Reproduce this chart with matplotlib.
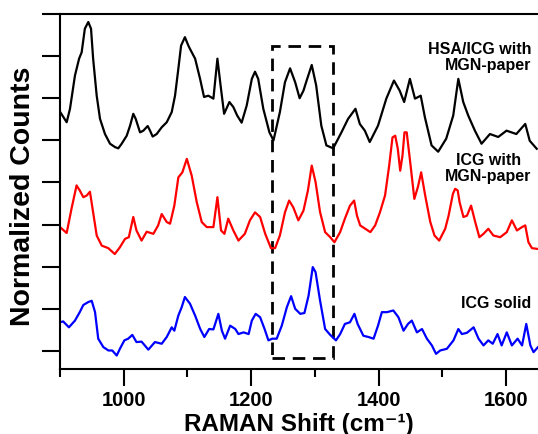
import matplotlib
matplotlib.use("Agg")
import matplotlib.pyplot as plt
from matplotlib.patches import Rectangle
from matplotlib.ticker import MultipleLocator, NullFormatter

plt.rcParams['font.family'] = ['Liberation Sans', 'DejaVu Sans']
plt.rcParams['font.weight'] = 'bold'

# HSA/ICG with MGN-paper (black)
hsa_x = [900, 910.5, 915.7, 923.5, 930, 934, 939, 944.4, 948.7, 952, 957.6, 962.8, 970.6,
         978.5, 986.3, 991.5, 996.8, 1004.7, 1010, 1015, 1018.8, 1025.6, 1030.8, 1037.6,
         1041.3, 1045.4, 1051.7, 1059.6, 1067.5, 1075.3, 1080.5, 1085.7, 1090, 1096, 1101.4,
         1104, 1112, 1119.8, 1126, 1132.8, 1140.7, 1147, 1152, 1157.5, 1165.8, 1172, 1178,
         1185, 1193, 1201, 1206, 1211, 1219, 1228.6, 1235, 1245, 1253, 1261, 1269, 1276,
         1282, 1287, 1295, 1302, 1310, 1318, 1328.6, 1341.6, 1352, 1363.6, 1370.4, 1378.3,
         1386, 1399, 1412, 1424, 1433, 1440, 1449, 1457, 1466, 1472.5, 1483, 1493.4, 1506,
         1517, 1525, 1532.7, 1540.5, 1551, 1561.4, 1574.6, 1587.6, 1600.6, 1616, 1630, 1637,
         1648]
hsa_y = [5.68, 5.43, 5.75, 6.54, 6.94, 7.09, 7.65, 7.81, 7.65, 6.94, 6.06, 5.51, 5.15,
         4.92, 4.84, 4.81, 4.92, 5.11, 5.35, 5.63, 5.51, 5.19, 5.23, 5.34,
         5.23, 5.09, 5.15, 5.31, 5.43, 5.67, 6.06, 6.70, 7.25, 7.45, 7.25,
         7.17, 6.94, 6.46, 6.03, 6.06, 5.99, 6.94, 6.30, 5.63, 5.91, 5.79, 5.59,
         5.42, 5.83, 6.46, 6.63, 6.46, 5.75, 5.19, 5.00, 5.67, 6.38, 6.71, 6.38, 6.00,
         6.18, 6.42, 6.79, 6.30, 5.35, 4.88, 4.81, 5.19, 5.51, 5.75, 5.39, 5.23,
         4.96, 5.35, 5.99, 6.42, 6.18, 5.91, 6.46, 5.99, 6.06, 5.55, 4.88, 4.73, 5.04,
         5.59, 6.46, 5.91, 5.59, 5.23, 4.92, 5.15, 5.08, 5.23, 5.15, 5.39, 4.99,
         4.80]

# ICG with MGN-paper (red)
icg_paper_x = [900, 910.5, 918, 926, 931, 936.6, 942, 947, 952, 957.6, 965.5, 975.8, 986,
               994, 1002, 1008, 1015, 1020, 1028, 1036, 1046.5, 1054, 1059.6, 1067.5, 1072.7,
               1079.4, 1085.7, 1092, 1099, 1106.7, 1114.6, 1122.4, 1130.3, 1140.7, 1147,
               1152.7, 1158, 1164, 1172, 1180, 1190, 1198, 1206, 1214, 1222, 1231, 1237.5,
               1245, 1253, 1259.5, 1266, 1274, 1282, 1289, 1295, 1301, 1308, 1316, 1324,
               1330.6, 1339.5, 1347, 1355, 1361.5, 1366, 1371, 1379, 1387, 1394.5, 1402,
               1410, 1416.5, 1421.7, 1426, 1430, 1433.8, 1437.4, 1440.5, 1444, 1449.5, 1456,
               1461.5, 1466.7, 1473, 1481, 1487.6, 1495, 1504.4, 1509.7, 1516.5, 1520, 1524,
               1527, 1533, 1538.5, 1545, 1551.5, 1558, 1564.5, 1572, 1580, 1590.7, 1601,
               1609, 1617, 1624.8, 1630, 1635, 1640.5, 1650]
icg_paper_y = [2.94, 2.80, 3.37, 3.93, 3.81, 3.65, 3.69, 3.78, 3.29, 2.74, 2.50, 2.44, 2.30,
               2.46, 2.66, 2.70, 3.18, 2.86, 2.62, 2.83, 2.78, 2.98, 3.25, 3.06, 3.02,
               3.45, 4.12, 4.24, 4.56, 4.16, 3.53, 3.06, 2.94, 2.94, 3.65,
               2.86, 2.78, 3.14, 2.86, 2.62, 2.78, 3.10, 3.29, 3.18, 2.78, 2.44, 2.44,
               2.74, 3.29, 3.57, 3.41, 3.10, 3.33, 3.81, 4.40, 4.01, 3.30, 2.82, 2.70,
               2.58, 2.82, 3.14, 3.45, 3.57, 3.21, 2.98, 2.90, 2.82, 2.98, 3.29,
               3.69, 4.40, 5.07, 5.11, 4.80, 4.28, 4.64, 5.19, 5.19, 4.48, 3.61,
               3.89, 4.24, 3.69, 3.06, 2.74, 2.62, 2.90, 3.21, 3.73, 3.85, 3.81,
               3.53, 3.18, 3.21, 3.45, 3.06, 2.70, 2.78, 2.90, 2.74, 2.70, 2.82,
               3.10, 2.86, 2.94, 2.98, 2.58, 2.44, 2.42]

# ICG solid (blue)
icg_solid_x = [900, 905, 914, 923.5, 931, 936.6, 944.4, 949.8, 955, 960, 968, 976, 982, 989,
               994, 1001, 1007, 1013.5, 1020, 1028, 1038.6, 1049, 1059.6, 1067.5, 1075.3,
               1079.4, 1085.7, 1091, 1096, 1104, 1112, 1120, 1126.5, 1134, 1140.7, 1148.5,
               1154, 1159, 1167, 1175, 1180, 1188, 1196, 1201, 1207, 1214, 1221, 1227, 1233,
               1240, 1248, 1256, 1262.6, 1269, 1277, 1283.5, 1290, 1296.6, 1301, 1308, 1316,
               1324, 1333, 1339.6, 1347, 1355, 1362, 1367, 1376, 1384, 1392, 1399, 1405,
               1413, 1423, 1431, 1439, 1446, 1452, 1460, 1468, 1475.7, 1483.5, 1490, 1496.5,
               1507, 1517.4, 1525, 1530.6, 1538.5, 1549, 1556.7, 1564.5, 1572, 1579, 1586.5,
               1593, 1601, 1609, 1618, 1625, 1631.6, 1638, 1643, 1650]
icg_solid_y = [0.68, 0.70, 0.56, 0.72, 0.92, 1.09, 1.16, 1.19, 0.92, 0.29, 0.09, 0.01, 0.01, -0.11,
               0.05, 0.25, 0.29, 0.38, 0.21, 0.22, 0.03, 0.21, 0.17, 0.33, 0.56,
               0.48, 0.84, 1.04, 1.28, 1.12, 0.84, 0.52, 0.33, 0.52, 0.51, 0.88,
               0.48, 0.29, 0.60, 0.52, 0.40, 0.44, 0.40, 0.72, 0.88, 0.80, 0.52, 0.25, 0.29,
               0.29, 0.60, 1.04, 1.30, 1.00, 0.88, 0.90, 1.31, 1.99, 1.87, 1.20, 0.52,
               0.38, 0.25, 0.40, 0.64, 0.68, 0.88, 0.64, 0.36, 0.33, 0.29, 0.60, 0.92,
               0.92, 0.96, 0.80, 0.48, 0.64, 0.72, 0.44, 0.52, 0.29, 0.13, -0.07, 0.01,
               0.05, 0.25, 0.52, 0.40, 0.43, 0.56, 0.29, 0.13, 0.25, 0.17, 0.40,
               0.13, 0.44, 0.13, 0.29, 0.13, 0.64, 0.13, -0.03, 0.09]

# highlighted region (dashed box)
box_x = (1233, 1329)
box_y = (-0.17, 7.24)

fig = plt.figure(figsize=(5.38, 4.35), dpi=100)
ax = fig.add_axes([0.1115, 0.1494, 0.8885, 0.8161])

ax.plot(hsa_x, hsa_y, color='black', lw=1.6)
ax.plot(icg_paper_x, icg_paper_y, color='#ff0000', lw=1.6)
ax.plot(icg_solid_x, icg_solid_y, color='#0000ff', lw=1.6)

ax.add_patch(Rectangle((box_x[0], box_y[0]), box_x[1] - box_x[0], box_y[1] - box_y[0],
                       fill=False, ls=(0, (4.5, 2.8)), lw=2.0, ec='black'))

ax.text(1640, 7.0, "HSA/ICG with\nMGN-paper", ha='right', va='center',
        fontsize=11.5, fontweight='bold', multialignment='right', linespacing=1.1)
ax.text(1572, 4.36, "ICG with\nMGN-paper", ha='center', va='center',
        fontsize=11.5, fontweight='bold', multialignment='center', linespacing=1.1)
ax.text(1640, 1.16, "ICG solid", ha='right', va='center', fontsize=11.5, fontweight='bold')

ax.set_xlim(900, 1650)
ax.set_ylim(-0.43, 8)

ax.xaxis.set_major_locator(MultipleLocator(200))
ax.xaxis.set_minor_locator(MultipleLocator(100))
ax.yaxis.set_major_locator(MultipleLocator(1))
ax.yaxis.set_major_formatter(NullFormatter())

ax.tick_params(axis='x', which='major', length=12, width=1.5, labelsize=14.5, pad=3)
ax.tick_params(axis='x', which='minor', length=6, width=1.5)
ax.tick_params(axis='y', which='major', length=13, width=1.5)
for lab in ax.get_xticklabels():
    lab.set_fontweight('bold')

ax.spines['right'].set_visible(False)
for s in ['left', 'bottom', 'top']:
    ax.spines[s].set_linewidth(1.5)

ax.set_xlabel("RAMAN Shift (cm\u207b\u00b9)", fontsize=17.5, fontweight='bold')
ax.xaxis.label.set_va('baseline')
ax.xaxis.set_label_coords(0.5, -0.171)
ax.set_ylabel("Normalized Counts", fontsize=20.5, fontweight='bold')
ax.yaxis.label.set_va('center')
ax.yaxis.set_label_coords(-0.0774, 0.49)

fig.savefig("out.png", dpi=100)
